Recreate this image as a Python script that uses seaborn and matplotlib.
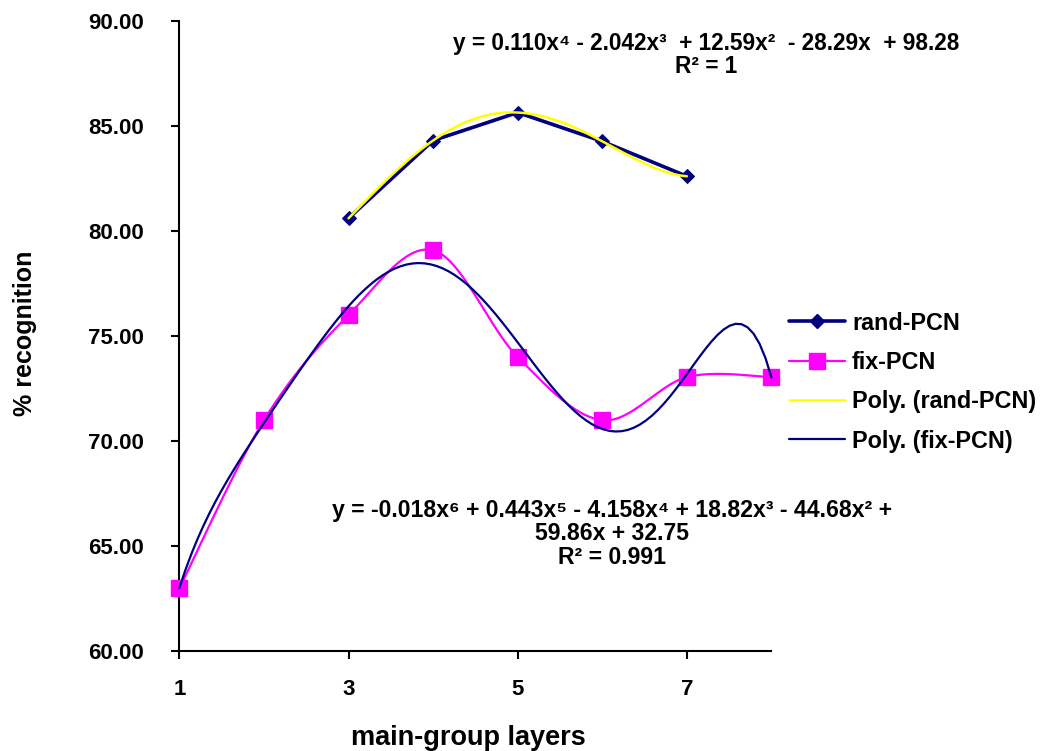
import numpy as np
import matplotlib
matplotlib.use("Agg")
import matplotlib.pyplot as plt
from matplotlib.lines import Line2D
import seaborn as sns

# values
layers_rand = [3, 4, 5, 6, 7]
rand_pcn = [80.60, 84.30, 85.63, 84.26, 82.60]
layers_fix = [1, 2, 3, 4, 5, 6, 7, 8]
fix_pcn = [63.0, 71.0, 76.0, 79.08, 74.0, 71.0, 73.05, 73.05]
x_ticks = [1, 3, 5, 7]
y_ticks = [60, 65, 70, 75, 80, 85, 90]

eq_rand = "y = 0.110x\u2074 - 2.042x\u00b3  + 12.59x\u00b2  - 28.29x  + 98.28\nR\u00b2 = 1"
eq_fix = ("y = -0.018x\u2076 + 0.443x\u2075 - 4.158x\u2074 + 18.82x\u00b3 - 44.68x\u00b2 +\n"
          "59.86x + 32.75\nR\u00b2 = 0.991")

NAVY = "#000080"
PINK = "#FF00FF"
YELLOW = "#FFFF00"


def smooth_line(x, y, n=40):
    # excel style smoothed line (bezier through the points)
    x = np.asarray(x, float)
    y = np.asarray(y, float)
    px = np.concatenate([[x[0]], x, [x[-1]]])
    py = np.concatenate([[y[0]], y, [y[-1]]])
    t = np.linspace(0, 1, n)[:-1]
    xs, ys, idx = [], [], []
    for i in range(len(x) - 1):
        p0 = np.array([px[i + 1], py[i + 1]])
        p3 = np.array([px[i + 2], py[i + 2]])
        c1 = p0 + (np.array([px[i + 2], py[i + 2]]) - np.array([px[i], py[i]])) / 6
        c2 = p3 - (np.array([px[i + 3], py[i + 3]]) - np.array([px[i + 1], py[i + 1]])) / 6
        idx.append(len(xs))
        for tt in t:
            b = ((1 - tt) ** 3) * p0 + 3 * ((1 - tt) ** 2) * tt * c1 + 3 * (1 - tt) * tt ** 2 * c2 + tt ** 3 * p3
            xs.append(b[0])
            ys.append(b[1])
    idx.append(len(xs))
    xs.append(x[-1])
    ys.append(y[-1])
    return np.array(xs), np.array(ys), idx


sns.set_style("ticks")
plt.rcParams['font.family'] = ['Liberation Sans', 'DejaVu Sans']
plt.rcParams['font.weight'] = 'bold'
plt.rcParams['text.color'] = 'black'
plt.rcParams['axes.labelcolor'] = 'black'

fig = plt.figure(figsize=(10.42, 7.51), dpi=100)
ax = fig.add_axes([0.1721, 0.1325, 0.5683, 0.84])

# rand-PCN
sns.lineplot(x=layers_rand, y=rand_pcn, ax=ax, color=NAVY, lw=2.6,
             marker="D", markersize=7, markeredgecolor=NAVY, zorder=3)

# fix-PCN, smoothed line
sx, sy, marks = smooth_line(layers_fix, fix_pcn)
ax.plot(sx, sy, color=PINK, lw=1.6, marker="s", markersize=11.5,
        markevery=marks, markeredgecolor=PINK, zorder=3, clip_on=False)

# polynomial trendlines
sns.regplot(x=np.array(layers_rand), y=np.array(rand_pcn), order=4, ci=None,
            scatter=False, truncate=True, ax=ax,
            line_kws=dict(color=YELLOW, lw=1.8, zorder=4))
sns.regplot(x=np.array(layers_fix), y=np.array(fix_pcn), order=6, ci=None,
            scatter=False, truncate=True, ax=ax,
            line_kws=dict(color=NAVY, lw=1.6, zorder=4, clip_on=False))

ax.set_xlim(1, 8)
ax.set_ylim(60, 90)
ax.set_xticks(x_ticks)
ax.set_xticklabels([str(v) for v in x_ticks])
ax.set_yticks(y_ticks)
ax.set_yticklabels([f"{v:.2f}" for v in y_ticks])
ax.tick_params(axis="both", direction="out", length=5.5, width=1.5,
               labelsize=16, colors="black")
ax.tick_params(axis="y", pad=20)
ax.tick_params(axis="x", pad=14)
sns.despine(ax=ax)
for s in ["left", "bottom"]:
    ax.spines[s].set_linewidth(1.5)
    ax.spines[s].set_color("black")

ax.set_xlabel("main-group layers", fontsize=19.5, fontweight="bold")
ax.xaxis.set_label_coords(0.4875, -0.1165)
ax.set_ylabel("% recognition", fontsize=18, fontweight="bold")
ax.yaxis.set_label_coords(-0.24, 0.505)

fig.text(706 / 1042, 1 - 55 / 751, eq_rand, ha="center", va="center",
         fontsize=16.3, fontweight="bold", linespacing=1.05)
fig.text(612 / 1042, 1 - 534 / 751, eq_fix, ha="center", va="center",
         fontsize=16.6, fontweight="bold", linespacing=1.05)

handles = [
    Line2D([], [], color=NAVY, lw=2.6, marker="D", markersize=7),
    Line2D([], [], color=PINK, lw=1.6, marker="s", markersize=11.5),
    Line2D([], [], color=YELLOW, lw=1.8),
    Line2D([], [], color=NAVY, lw=1.6),
]
labels = ["rand-PCN", "fix-PCN", "Poly. (rand-PCN)", "Poly. (fix-PCN)"]
fig.legend(handles, labels, loc="center left", bbox_to_anchor=(789 / 1042, 1 - 382 / 751),
           frameon=False, fontsize=16.8, handlelength=2.4, handletextpad=0.3,
           labelspacing=0.7, borderpad=0, borderaxespad=0)

fig.savefig("out.png", dpi=100)
